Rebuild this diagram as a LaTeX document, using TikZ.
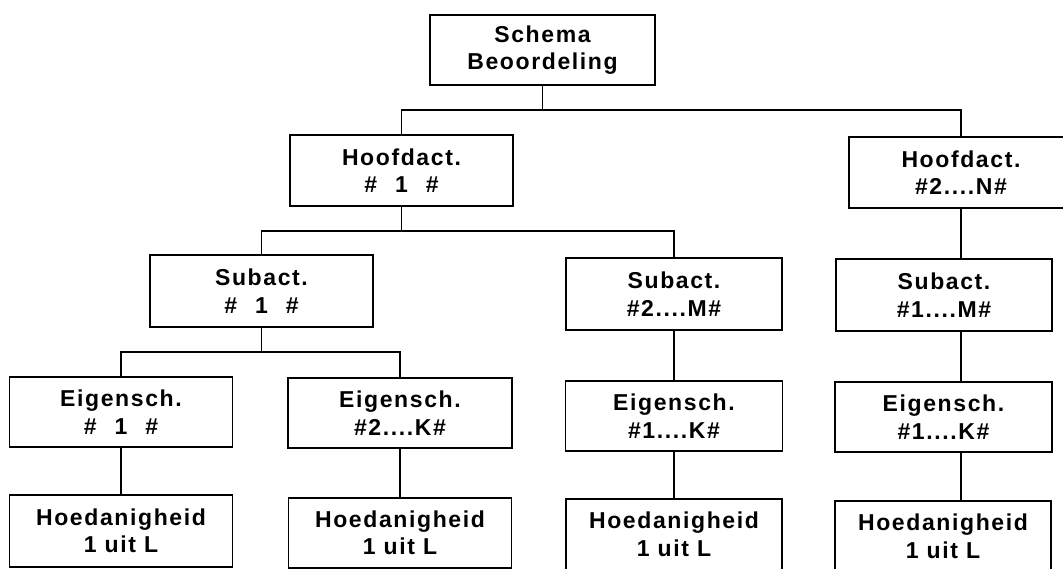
\documentclass[tikz,border=0pt]{standalone}
\usepackage{fontspec}
\setmainfont{Liberation Sans}[LetterSpace=7]
\newcommand{\gapsp}{\hspace{18pt}}
\begin{document}
\begin{tikzpicture}[x=1pt,y=-1pt,
  box/.style={draw, line width=1.6pt, rectangle, align=center, inner sep=0pt,
    font=\bfseries\fontsize{23}{27.5}\selectfont},
  conn/.style={line width=1.3pt}]
\useasboundingbox (0,0) rectangle (1063,569);
\clip (0,0) rectangle (1063,569);
\node[box, minimum width=225pt, minimum height=70pt] (top) at (542.5,50) {Schema\\Beoordeling};
\node[box, minimum width=223pt, minimum height=71pt] (h1) at (401.5,170.5) {Hoofdact.\\\#\gapsp1\gapsp\#};
\node[box, minimum width=224pt, minimum height=71pt] (h2) at (961,172.5) {Hoofdact.\\\#2....N\#};
\node[box, minimum width=223pt, minimum height=72pt] (s1) at (261.5,291) {Subact.\\\#\gapsp1\gapsp\#};
\node[box, minimum width=216pt, minimum height=72pt] (s2) at (674,294) {Subact.\\\#2....M\#};
\node[box, minimum width=216pt, minimum height=72pt] (s3) at (944,295) {Subact.\\\#1....M\#};
\node[box, minimum width=223pt, minimum height=70pt] (e1) at (121,412) {Eigensch.\\\#\gapsp1\gapsp\#};
\node[box, minimum width=224pt, minimum height=70pt] (e2) at (400,413) {Eigensch.\\\#2....K\#};
\node[box, minimum width=217pt, minimum height=70pt] (e3) at (674,416) {Eigensch.\\\#1....K\#};
\node[box, minimum width=217pt, minimum height=70pt] (e4) at (943.5,417) {Eigensch.\\\#1....K\#};
\node[box, minimum width=223pt, minimum height=72pt] (q1) at (121,531) {Hoedanigheid\\1 uit L};
\node[box, minimum width=223pt, minimum height=70pt] (q2) at (400,533) {Hoedanigheid\\1 uit L};
\node[box, minimum width=216pt, minimum height=71pt] (q3) at (674,534.5) {Hoedanigheid\\1 uit L};
\node[box, minimum width=216pt, minimum height=71pt] (q4) at (943,536.5) {Hoedanigheid\\1 uit L};
\coordinate (j1) at (542.5,110);
\coordinate (j2) at (401.5,231);
\coordinate (j3) at (261.5,352);
\draw[conn] (top.south) -- (j1);
\draw[conn] (h1.north) |- (j1) -| (h2.north);
\draw[conn] (h1.south) -- (j2);
\draw[conn] (s1.north) |- (j2) -| (s2.north);
\draw[conn] (s1.south) -- (j3);
\draw[conn] (e1.north) |- (j3) -| (e2.north);
\draw[conn] (e1.south) -- (q1.north);
\draw[conn] (e2.south) -- (q2.north);
\draw[conn] (s2.south) -- (e3.north);
\draw[conn] (e3.south) -- (q3.north);
\draw[conn] (h2.south) -- (h2.south |- s3.north);
\draw[conn] (h2.south |- s3.south) -- (h2.south |- e4.north);
\draw[conn] (h2.south |- e4.south) -- (h2.south |- q4.north);
\end{tikzpicture}
\end{document}
